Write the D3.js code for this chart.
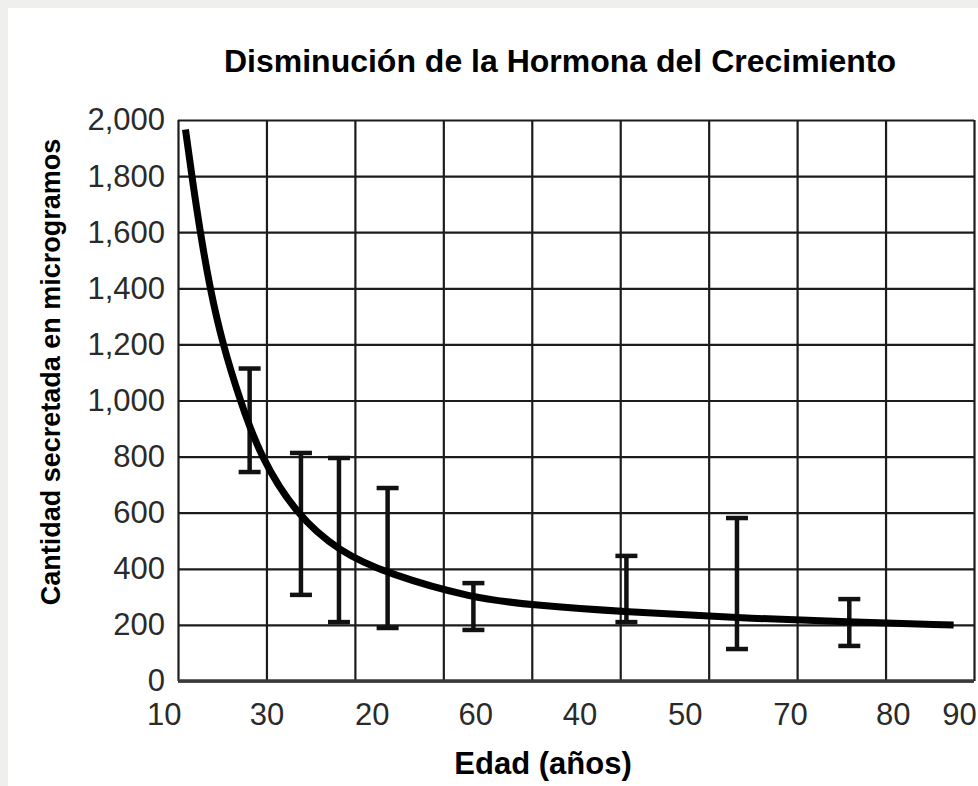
<!DOCTYPE html>
<html>
<head>
<meta charset="utf-8">
<script src="https://cdn.jsdelivr.net/npm/d3@7"></script>
<style>
  body { margin: 0; background: #efefed; }
  svg { display: block; font-family: "Liberation Sans", Arial, sans-serif; }
</style>
</head>
<body>
<svg id="chart"></svg>
<script>
// x values are in grid columns (0 = left edge, 9 = right edge)
const yTicks = [0, 200, 400, 600, 800, 1000, 1200, 1400, 1600, 1800, 2000];
const xLabels = ['10', '30', '20', '60', '40', '50', '70', '80', '90'];
const xLabelPos = [-0.16, 1.0, 2.19, 3.36, 4.54, 5.73, 6.92, 8.08, 8.83];

// fitted curve
const curvePos = [0.09, 0.155, 0.25, 0.36, 0.505, 0.70, 0.93, 1.34, 1.82, 2.37, 3.33, 4.0, 5.07, 6.32, 7.59, 8.73];
const curveVal = [1954, 1804, 1602, 1401, 1201, 1002, 800, 592, 462, 382, 295, 271, 246, 225, 211, 200];

// error bars
const barPos = [0.81, 1.39, 1.82, 2.37, 3.34, 5.07, 6.32, 7.59];
const barHigh = [1114, 813, 795, 688, 349, 446, 581, 292];
const barLow = [745, 307, 210, 189, 182, 210, 114, 125];

const width = 978;
const height = 786;
const margin = { top: 120, left: 178, right: 4, bottom: 105 };
const innerWidth = width - margin.left - margin.right;
const innerHeight = height - margin.top - margin.bottom;

const svg = d3.select('#chart')
  .attr('width', width)
  .attr('height', height);

svg.append('rect')
  .attr('x', 8).attr('y', 8)
  .attr('width', width - 8).attr('height', height - 8)
  .attr('fill', '#fff');

const x = d3.scaleLinear().domain([0, 9]).range([0, innerWidth]);
const y = d3.scaleLinear().domain([0, 2000]).range([innerHeight, 0]);

const g = svg.append('g')
  .attr('transform', `translate(${margin.left}, ${margin.top})`);

// grid
g.append('g')
  .attr('class', 'grid-y')
  .call(d3.axisLeft(y).tickValues(yTicks).tickSize(-innerWidth).tickFormat(''))
  .call(s => s.select('.domain').remove())
  .call(s => s.selectAll('line').attr('stroke', '#1c1c1c').attr('stroke-width', 2.2));

g.append('g')
  .attr('class', 'grid-x')
  .attr('transform', `translate(0, ${innerHeight})`)
  .call(d3.axisBottom(x).tickValues(d3.range(0, 10)).tickSize(-innerHeight).tickFormat(''))
  .call(s => s.select('.domain').remove())
  .call(s => s.selectAll('line').attr('stroke', '#1c1c1c').attr('stroke-width', 2.2));

// bottom base line
g.append('line')
  .attr('x1', x(0)).attr('x2', x(9))
  .attr('y1', y(0)).attr('y2', y(0))
  .attr('stroke', '#3a3a3a')
  .attr('stroke-width', 3.5);

// tick labels
g.append('g')
  .attr('font-size', 31)
  .call(d3.axisLeft(y).tickValues(yTicks).tickSize(0).tickPadding(13).tickFormat(d3.format(',')))
  .call(s => s.select('.domain').remove())
  .call(s => s.selectAll('text').attr('font-size', 31).attr('fill', '#2a2a2a')
    .attr('font-family', '"Liberation Sans", Arial, sans-serif'));

g.append('g')
  .attr('transform', `translate(0, ${innerHeight})`)
  .call(d3.axisBottom(x).tickValues(xLabelPos).tickSize(0).tickPadding(22)
    .tickFormat((d, i) => xLabels[i]))
  .call(s => s.select('.domain').remove())
  .call(s => s.selectAll('text').attr('font-size', 31).attr('fill', '#2a2a2a')
    .attr('font-family', '"Liberation Sans", Arial, sans-serif'));

// error bars
const bars = d3.range(barPos.length);
const capW = 11;
const eb = g.append('g')
  .attr('stroke', '#111')
  .attr('stroke-width', 4.5);

eb.selectAll('.stem')
  .data(bars)
  .enter().append('line')
    .attr('class', 'stem')
    .attr('x1', i => x(barPos[i])).attr('x2', i => x(barPos[i]))
    .attr('y1', i => y(barHigh[i])).attr('y2', i => y(barLow[i]));

eb.selectAll('.cap-top')
  .data(bars)
  .enter().append('line')
    .attr('class', 'cap-top')
    .attr('x1', i => x(barPos[i]) - capW).attr('x2', i => x(barPos[i]) + capW)
    .attr('y1', i => y(barHigh[i])).attr('y2', i => y(barHigh[i]));

eb.selectAll('.cap-bottom')
  .data(bars)
  .enter().append('line')
    .attr('class', 'cap-bottom')
    .attr('x1', i => x(barPos[i]) - capW).attr('x2', i => x(barPos[i]) + capW)
    .attr('y1', i => y(barLow[i])).attr('y2', i => y(barLow[i]));

// curve
const line = d3.line()
  .x(i => x(curvePos[i]))
  .y(i => y(curveVal[i]))
  .curve(d3.curveBasis);

g.append('path')
  .datum(d3.range(curvePos.length))
  .attr('d', line)
  .attr('fill', 'none')
  .attr('stroke', '#000')
  .attr('stroke-width', 7)
  .attr('stroke-linecap', 'square');

// titles
svg.append('text')
  .attr('x', 560).attr('y', 72)
  .attr('text-anchor', 'middle')
  .attr('font-size', 32).attr('font-weight', 'bold')
  .text('Disminución de la Hormona del Crecimiento');

svg.append('text')
  .attr('x', 543).attr('y', 774)
  .attr('text-anchor', 'middle')
  .attr('font-size', 31).attr('font-weight', 'bold')
  .text('Edad (años)');

svg.append('text')
  .attr('transform', 'translate(60, 372) rotate(-90)')
  .attr('text-anchor', 'middle')
  .attr('font-size', 27).attr('font-weight', 'bold')
  .text('Cantidad secretada en microgramos');
</script>
</body>
</html>
